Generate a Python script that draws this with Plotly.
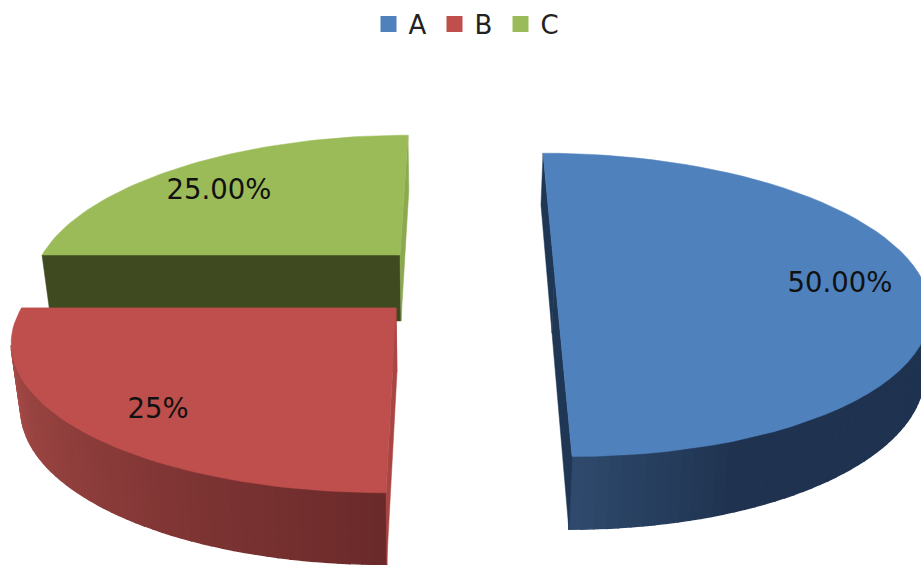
import math
import plotly.graph_objects as go

# chart data
categories = ["A", "B", "C"]
shares = [50, 25, 25]
label_texts = ["50.00%", "25%", "25.00%"]

# colours
top_colors = ["#4F81BD", "#BE4F4C", "#9BBB59"]
wall_near_colors = ["#1F3350", "#6B2A2A", "#5F7336"]   # wall colour at the slice start
wall_far_colors = ["#2F4B6E", "#A44A47", "#5F7336"]    # wall colour at the slice end
start_face_colors = ["#1F3654", "#A94644", "#3F4A20"]
end_face_colors = ["#1F3654", "#A94644", "#8BA94F"]
shade_from = [158, 180, 270]  # angle where the wall shading starts
wall_span = [(102, 180), (180, 256), None]  # part of the arc where the wall can be seen

# projection of each exploded slice, in pixels: apex, x radius, y radius, lean
top_geom = [
    dict(ax=554.5, ay=273, rx=364, ry=145, lean=0.0957),
    dict(ax=396, ay=308, rx=374.5, ry=146, lean=-0.054),
    dict(ax=400, ay=255, rx=358, ry=145, lean=-0.067),
]
bottom_geom = [
    dict(ax=552, ay=333, rx=361, ry=155, lean=0.086),
    dict(ax=397, ay=372, rx=366, ry=152, lean=-0.054),
    dict(ax=401, ay=321, rx=350, ry=158, lean=-0.06),
]
label_pos = [(840, 285), (158, 411), (219, 192)]
PERSPECTIVE = 0.21


def project(geom, angle):
    # angle in degrees, clockwise from the far side of the pie
    u = math.sin(math.radians(angle))
    v = math.cos(math.radians(angle))
    w = 1 + PERSPECTIVE * v
    dy = -geom["ry"] * v / w
    return geom["ax"] + geom["rx"] * u / w + geom["lean"] * dy, geom["ay"] + dy


def mix(c1, c2, t):
    a = [int(c1[i:i + 2], 16) for i in (1, 3, 5)]
    b = [int(c2[i:i + 2], 16) for i in (1, 3, 5)]
    return "#%02x%02x%02x" % tuple(round(p + (q - p) * t) for p, q in zip(a, b))


def poly(points, color, width=0.5):
    xs = [p[0] for p in points] + [points[0][0]]
    ys = [p[1] for p in points] + [points[0][1]]
    return go.Scatter(x=xs, y=ys, mode="lines", fill="toself", fillcolor=color,
                      line=dict(color=color, width=width), hoverinfo="skip", showlegend=False)


fig = go.Figure()
total = sum(shares)
starts = [sum(shares[:i]) / total * 360 for i in range(len(shares))]
sweeps = [s / total * 360 for s in shares]

# far slice first, then the nearer ones on top of it
for i in [2, 1, 0]:
    top, bottom = top_geom[i], bottom_geom[i]
    a0, a1 = starts[i], starts[i] + sweeps[i]
    n = 60
    angles = [a0 + (a1 - a0) * k / n for k in range(n + 1)]

    # outer wall as thin strips, shaded along the arc
    if wall_span[i]:
        lo, hi = wall_span[i]
        m = 50
        wall_angles = [lo + (hi - lo) * k / m for k in range(m + 1)]
        for k in range(m):
            if i == 0:
                t = max(0, (wall_angles[k] - shade_from[i]) / (a1 - shade_from[i]))
            else:
                t = k / (m - 1)
            fig.add_trace(poly([project(top, wall_angles[k]), project(top, wall_angles[k + 1]),
                                project(bottom, wall_angles[k + 1]), project(bottom, wall_angles[k])],
                               mix(wall_near_colors[i], wall_far_colors[i], t), width=1.5))

    # cut faces
    apex_t, apex_b = (top["ax"], top["ay"]), (bottom["ax"], bottom["ay"])
    fig.add_trace(poly([project(top, a0), apex_t, apex_b, project(bottom, a0)], start_face_colors[i]))
    fig.add_trace(poly([project(top, a1), apex_t, apex_b, project(bottom, a1)], end_face_colors[i]))

    # top surface
    fig.add_trace(poly([apex_t] + [project(top, a) for a in angles], top_colors[i]))

# labels
fig.add_trace(go.Scatter(x=[p[0] for p in label_pos], y=[p[1] for p in label_pos],
                         mode="text", text=label_texts, hoverinfo="skip", showlegend=False,
                         textfont=dict(family="DejaVu Sans", size=27.5, color="#111111")))

# legend entries
for name, color in zip(categories, top_colors):
    fig.add_trace(go.Scatter(x=[None], y=[None], mode="markers", name=name,
                             marker=dict(symbol="square", size=18, color=color)))

fig.update_layout(
    width=921, height=565,
    margin=dict(l=0, r=0, t=0, b=0),
    paper_bgcolor="white", plot_bgcolor="white",
    showlegend=True,
    legend=dict(orientation="h", x=0.5 + 7 / 921, xanchor="center", y=1 - 24 / 565, yanchor="middle",
                font=dict(family="DejaVu Sans", size=26, color="#222222"),
                entrywidth=21, entrywidthmode="pixels",
                bgcolor="rgba(0,0,0,0)"),
    xaxis=dict(range=[0, 921], visible=False, fixedrange=True),
    yaxis=dict(range=[565, 0], visible=False, fixedrange=True),
)

fig.write_html("out.html", config=dict(displayModeBar=False),
               post_script="document.body.style.margin='0';document.body.style.overflow='hidden';")
